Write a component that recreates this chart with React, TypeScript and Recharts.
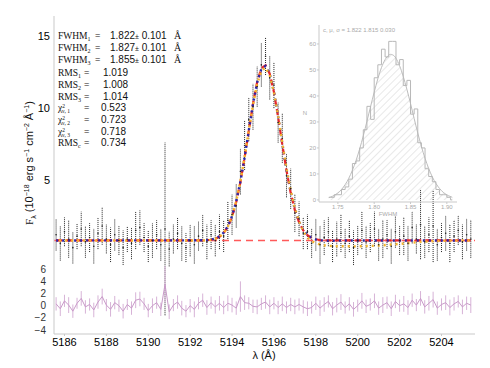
import React from 'react';
import { ComposedChart, Line, Scatter, Area, XAxis, YAxis, ErrorBar } from 'recharts';

// observed spectrum, 0.2 A sampling
const WAVE = [
  5185.6, 5185.8, 5186.0, 5186.2, 5186.4, 5186.6, 5186.8, 5187.0, 5187.2, 5187.4,
  5187.6, 5187.8, 5188.0, 5188.2, 5188.4, 5188.6, 5188.8, 5189.0, 5189.2, 5189.4,
  5189.6, 5189.8, 5190.0, 5190.2, 5190.4, 5190.6, 5190.8, 5191.0, 5191.2, 5191.4,
  5191.6, 5191.8, 5192.0, 5192.2, 5192.4, 5192.6, 5192.8, 5193.0, 5193.2, 5193.4,
  5193.6, 5193.8, 5194.0, 5194.2, 5194.4, 5194.6, 5194.8, 5195.0, 5195.2, 5195.4,
  5195.6, 5195.8, 5196.0, 5196.2, 5196.4, 5196.6, 5196.8, 5197.0, 5197.2, 5197.4,
  5197.6, 5197.8, 5198.0, 5198.2, 5198.4, 5198.6, 5198.8, 5199.0, 5199.2, 5199.4,
  5199.6, 5199.8, 5200.0, 5200.2, 5200.4, 5200.6, 5200.8, 5201.0, 5201.2, 5201.4,
  5201.6, 5201.8, 5202.0, 5202.2, 5202.4, 5202.6, 5202.8, 5203.0, 5203.2, 5203.4,
  5203.6, 5203.8, 5204.0, 5204.2, 5204.4, 5204.6, 5204.8, 5205.0, 5205.2, 5205.4,
];

const FLUX = [
  1.2, 0.6, 1.4, 0.9, 0.3, 1.1, 1.6, 0.7, 1.0, 0.4,
  1.3, 1.8, 0.9, 0.5, 1.2, 0.8, 0.3, 0.9, 0.6, 1.5,
  1.7, 1.0, 0.4, 0.8, 1.2, 0.5, 1.6, 0.2, 0.9, 1.3,
  0.6, 0.3, 0.8, 0.5, 1.1, 1.5, 0.7, 1.2, 0.8, 1.4,
  1.1, 2.2, 2.6, 3.2, 5.6, 7.4, 9.2, 10.1, 11.5, 13.0,
  13.6, 12.1, 11.6, 9.0, 7.9, 5.3, 4.4, 2.7, 2.3, 1.3,
  1.4, 0.6, 1.2, 0.5, 1.0, 1.4, 0.4, 0.9, 1.3, 0.6,
  1.1, 0.3, 0.8, 1.5, 0.7, 1.0, 1.6, 0.5, 0.9, 1.2,
  0.4, 1.4, 0.8, 1.1, 0.6, 1.7, 0.9, 1.9, 0.7, 1.2,
  1.8, 0.5, 1.0, 1.3, 0.6, 1.1, 1.5, 0.7, 1.2, 0.9,
];

const FLUX_ERR = [
  1.1, 1.2, 1.0, 1.3, 1.1, 0.9, 1.2, 1.1, 1.0, 1.2,
  1.1, 1.3, 1.0, 1.2, 1.1, 1.0, 1.2, 0.9, 1.1, 1.3,
  1.2, 1.0, 1.1, 1.2, 1.0, 1.1, 6.0, 1.2, 1.0, 1.1,
  1.2, 1.0, 1.1, 1.3, 1.0, 1.1, 1.2, 1.0, 1.1, 1.2,
  1.1, 1.3, 1.4, 1.5, 1.6, 1.7, 1.5, 1.6, 1.4, 1.5,
  1.3, 1.5, 1.6, 1.4, 1.7, 1.5, 1.4, 1.3, 1.2, 1.1,
  1.2, 1.0, 1.1, 1.3, 1.2, 1.0, 1.1, 1.2, 1.3, 1.0,
  1.1, 1.2, 1.0, 1.3, 1.1, 1.0, 1.2, 1.1, 1.3, 1.0,
  1.2, 1.1, 1.0, 1.3, 1.2, 1.1, 1.0, 2.4, 1.1, 1.2,
  2.5, 1.1, 1.0, 1.2, 1.3, 1.1, 1.0, 1.2, 1.1, 1.3,
];

const RESID = [
  0.3, -0.5, 0.8, 0.1, -0.9, 0.4, 1.2, -0.2, 0.2, -0.7,
  0.6, 1.5, 0.1, -0.6, 0.5, 0.0, -0.9, 0.2, -0.4, 0.9,
  1.1, 0.3, -0.8, 0.0, 0.5, -0.6, 3.5, -1.0, 0.1, 0.6,
  -0.4, -0.9, 0.0, -0.6, 0.4, 0.9, -0.3, 0.5, -0.2, 0.4,
  -0.3, 0.4, 0.1, -0.4, 1.5, 0.5, 0.4, -0.1, -0.2, 0.3,
  0.6, -0.2, 0.4, -0.3, 0.3, -0.3, 0.2, -0.2, 0.2, -0.2,
  -0.5, -0.3, 0.4, -0.4, 0.2, 0.7, -0.5, 0.1, 0.6, -0.3,
  0.3, -0.6, 0.0, 0.8, -0.1, 0.2, 0.8, -0.4, 0.1, 0.5,
  -0.5, 0.7, 0.0, 0.3, -0.3, 0.9, 0.1, 1.2, -0.2, 0.4,
  1.0, -0.4, 0.2, 0.5, -0.3, 0.3, 0.7, -0.2, 0.4, 0.1,
];

const RESID_ERR = [
  1.1, 1.2, 1.0, 1.3, 1.1, 0.9, 1.2, 1.1, 1.0, 1.2,
  1.1, 1.3, 1.0, 1.2, 1.1, 1.0, 1.2, 0.9, 1.1, 1.3,
  1.2, 1.0, 1.1, 1.2, 1.0, 1.1, 3.0, 1.2, 1.0, 1.1,
  1.2, 1.0, 1.1, 1.3, 1.0, 1.1, 1.2, 1.0, 1.1, 1.2,
  1.1, 1.3, 1.2, 1.1, 2.5, 1.2, 1.0, 1.1, 1.2, 1.0,
  1.1, 1.2, 1.0, 1.1, 1.2, 1.0, 1.1, 1.2, 1.0, 1.1,
  1.2, 1.0, 1.1, 1.3, 1.2, 1.0, 1.1, 1.2, 1.3, 1.0,
  1.1, 1.2, 1.0, 1.3, 1.1, 1.0, 1.2, 1.1, 1.3, 1.0,
  1.2, 1.1, 1.0, 1.3, 1.2, 1.1, 1.0, 1.2, 1.1, 1.2,
  1.3, 1.1, 1.0, 1.2, 1.3, 1.1, 1.0, 1.2, 1.1, 1.3,
];

// continuum level and the three gaussian fits
const CONT_WAVE = [5185.5, 5205.6];
const CONT = [0.8, 0.8];

const FIT_WAVE = [
  5185.6,
  5192.6, 5192.8, 5193.0, 5193.2, 5193.4, 5193.6, 5193.8, 5194.0, 5194.2, 5194.4,
  5194.6, 5194.8, 5195.0, 5195.2, 5195.4, 5195.6, 5195.8, 5196.0, 5196.2, 5196.4,
  5196.6, 5196.8, 5197.0, 5197.2, 5197.4, 5197.6, 5197.8, 5198.0, 5198.2, 5198.4,
  5198.6, 5198.8, 5199.0,
  5200.0, 5201.0, 5202.0, 5203.0, 5204.0, 5205.4,
];
const FIT_1 = [
  0.80,
  0.81, 0.82, 0.85, 0.92, 1.06, 1.31, 1.75, 2.44, 3.47, 4.85,
  6.55, 8.43, 10.28, 11.82, 12.77, 12.97, 12.38, 11.11, 9.37, 7.48,
  5.66, 4.11, 2.91, 2.06, 1.50, 1.17, 0.98, 0.88, 0.83, 0.81,
  0.80, 0.80, 0.80,
  0.80, 0.80, 0.80, 0.80, 0.80, 0.80,
];
const FIT_2 = [
  0.80,
  0.81, 0.82, 0.86, 0.94, 1.08, 1.34, 1.79, 2.49, 3.52, 4.90,
  6.58, 8.44, 10.27, 11.78, 12.72, 12.93, 12.36, 11.12, 9.40, 7.53,
  5.72, 4.17, 2.96, 2.10, 1.53, 1.18, 0.98, 0.87, 0.81, 0.79,
  0.78, 0.78, 0.79,
  0.80, 0.80, 0.80, 0.80, 0.80, 0.80,
];
const FIT_3 = [
  0.80,
  0.80, 0.81, 0.84, 0.91, 1.05, 1.31, 1.76, 2.47, 3.52, 4.91,
  6.60, 8.44, 10.22, 11.67, 12.58, 12.82, 12.30, 11.10, 9.44, 7.61,
  5.82, 4.27, 3.04, 2.12, 1.46, 1.01, 0.76, 0.61, 0.52, 0.46,
  0.43, 0.41, 0.40,
  0.39, 0.44, 0.56, 0.70, 0.78, 0.80,
];

// inset: FWHM distribution
const HIST_BINS = [
  1.7375, 1.7425, 1.7475, 1.7525, 1.7575, 1.7625, 1.7675, 1.7725, 1.7775, 1.7825,
  1.7875, 1.7925, 1.7975, 1.8025, 1.8075, 1.8125, 1.8175, 1.8225, 1.8275, 1.8325,
  1.8375, 1.8425, 1.8475, 1.8525, 1.8575, 1.8625, 1.8675, 1.8725, 1.8775, 1.8825,
  1.8875, 1.8925, 1.8975, 1.9025, 1.9075,
];
const HIST_COUNTS = [
  1, 1, 2, 2, 4, 5, 8, 14, 15, 20,
  27, 36, 31, 47, 52, 58, 55, 61, 61, 52,
  54, 44, 46, 33, 35, 22, 20, 12, 9, 7,
  4, 2, 2, 1, 0,
];
const HIST_GAUSS = [
  0.9, 1.4, 2.2, 3.3, 4.9, 7.0, 9.8, 13.2, 17.3, 22.1,
  27.4, 33.1, 38.7, 44.1, 48.9, 52.6, 55.0, 56.0, 55.4, 53.2,
  49.7, 45.1, 39.9, 34.2, 28.5, 23.1, 18.2, 14.0, 10.4, 7.5,
  5.3, 3.6, 2.4, 1.6, 1.0,
];

const X_TICKS = [5186, 5188, 5190, 5192, 5194, 5196, 5198, 5200, 5202, 5204];
const X_MINOR = [5186, 5187, 5188, 5189, 5190, 5191, 5192, 5193, 5194, 5195, 5196, 5197, 5198, 5199, 5200, 5201, 5202, 5203, 5204, 5205];
const Y_TICKS = [5, 10, 15];
const RES_TICKS = [-4, -2, 0, 2, 4, 6];
const INSET_X_TICKS = [1.75, 1.8, 1.85, 1.9];
const INSET_Y_TICKS = [0, 10, 20, 30, 40, 50, 60];

const X_DOMAIN: [number, number] = [5185.5, 5205.6];
const FRAME = '#c9c9c9';
const SANS = 'Liberation Sans, Arial, sans-serif';
const SERIF = 'Liberation Serif, Times New Roman, serif';

const spectrum = WAVE.map((w, i) => ({ w, f: FLUX[i], e: FLUX_ERR[i] }));
const residuals = WAVE.map((w, i) => ({ w, r: RESID[i], e: RESID_ERR[i] }));
const cont = CONT_WAVE.map((w, i) => ({ w, v: CONT[i] }));
const fit1 = FIT_WAVE.map((w, i) => ({ w, v: FIT_1[i] }));
const fit2 = FIT_WAVE.map((w, i) => ({ w, v: FIT_2[i] }));
const fit3 = FIT_WAVE.map((w, i) => ({ w, v: FIT_3[i] }));
const hist = HIST_BINS.map((x, i) => ({ x, n: HIST_COUNTS[i], g: HIST_GAUSS[i] }));

const minus = (v: number) => String(v).replace('-', '\u2212');

const Dot = (p: any) => <circle cx={p.cx} cy={p.cy} r={0.8} fill="#222" />;

const MainPanel = () => (
  <ComposedChart width={490} height={368} margin={{ top: 16, right: 15, bottom: 111, left: 24 }}
    style={{ position: 'absolute', left: 0, top: 0 }}>
    <XAxis dataKey="w" type="number" domain={X_DOMAIN} allowDataOverflow ticks={X_MINOR} interval={0}
      tick={false} mirror height={0} tickSize={3} stroke={FRAME} />
    <XAxis xAxisId="top" orientation="top" type="number" domain={X_DOMAIN} allowDataOverflow ticks={X_MINOR} interval={0}
      tick={false} mirror height={0} tickSize={3} stroke={FRAME} />
    <YAxis type="number" domain={[-0.35, 16.4]} allowDataOverflow ticks={Y_TICKS} interval={0} width={30}
      tickLine={false} tickSize={2} tickMargin={2} stroke={FRAME}
      tick={{ fontSize: 11, fill: '#000', fontFamily: SANS }} />
    <YAxis yAxisId="right" orientation="right" type="number" domain={[-0.35, 16.4]} ticks={[2, 4, 6, 8, 10, 12, 14, 16]} interval={0}
      tick={false} mirror width={0} tickSize={3} stroke={FRAME} />
    <Scatter data={spectrum} dataKey="f" shape={Dot} isAnimationActive={false}>
      <ErrorBar dataKey="e" direction="y" width={0} stroke="#222" strokeWidth={1} strokeDasharray="1 1" />
    </Scatter>
    <Line data={cont} dataKey="v" stroke="#ff5a5a" strokeWidth={1.6} strokeDasharray="7 5" dot={false} isAnimationActive={false} />
    <Line data={fit1} dataKey="v" stroke="#e8262b" strokeWidth={2.2} strokeDasharray="6 4" dot={false} isAnimationActive={false} />
    <Line data={fit2} dataKey="v" stroke="#2b2aa6" strokeWidth={2.4} strokeDasharray="2 4" dot={false} isAnimationActive={false} />
    <Line data={fit3} dataKey="v" stroke="#f5b52c" strokeWidth={2.4} strokeDasharray="2 4" strokeDashoffset={3} dot={false} isAnimationActive={false} />
  </ComposedChart>
);

const ResidualPanel = () => (
  <ComposedChart width={490} height={368} margin={{ top: 257, right: 15, bottom: 14, left: 24 }}
    style={{ position: 'absolute', left: 0, top: 0 }}>
    <XAxis dataKey="w" type="number" domain={X_DOMAIN} allowDataOverflow ticks={X_TICKS} interval={0} height={20}
      tickSize={2} tickMargin={2} stroke={FRAME}
      tick={{ fontSize: 11, fill: '#000', fontFamily: SANS }} />
    <XAxis xAxisId="top" orientation="top" type="number" domain={X_DOMAIN} ticks={X_MINOR} interval={0}
      tick={false} mirror height={0} tickSize={3} stroke={FRAME} />
    <YAxis type="number" domain={[-4.65, 8]} allowDataOverflow ticks={RES_TICKS} interval={0} width={30}
      tickLine={false} tickSize={2} tickMargin={6} stroke={FRAME} tickFormatter={minus}
      tick={{ fontSize: 10, fill: '#333', fontFamily: SANS }} />
    <YAxis yAxisId="right" orientation="right" type="number" domain={[-4.65, 8]} ticks={RES_TICKS} interval={0}
      tick={false} mirror width={0} tickSize={3} stroke={FRAME} />
    <Line data={residuals} dataKey="r" stroke="#c99ac9" strokeWidth={1} dot={false} isAnimationActive={false}>
      <ErrorBar dataKey="e" direction="y" width={0} stroke="#d7b3d7" strokeWidth={1} />
    </Line>
  </ComposedChart>
);

const InsetPanel = () => (
  <ComposedChart width={490} height={368} data={hist} margin={{ top: 25, right: 33, bottom: 156, left: 307 }}
    style={{ position: 'absolute', left: 0, top: 0 }}>
    <defs>
      <pattern id="hatch" width="5" height="5" patternUnits="userSpaceOnUse" patternTransform="rotate(45)">
        <line x1="0" y1="0" x2="0" y2="5" stroke="#c6c6c6" strokeWidth="0.8" />
      </pattern>
    </defs>
    <XAxis dataKey="x" type="number" domain={[1.724, 1.914]} allowDataOverflow ticks={INSET_X_TICKS} interval={0} height={10}
      tickSize={2} tickMargin={1} stroke={FRAME} tickFormatter={(v: number) => v.toFixed(2)}
      tick={{ fontSize: 6, fill: '#aaa', fontFamily: SANS }} />
    <XAxis xAxisId="top" orientation="top" type="number" domain={[1.724, 1.914]} ticks={INSET_X_TICKS} interval={0}
      tick={false} mirror height={0} tickSize={2} stroke={FRAME} />
    <YAxis type="number" domain={[-0.8, 67.3]} allowDataOverflow ticks={INSET_Y_TICKS} interval={0} width={12}
      tickSize={2} tickMargin={1} stroke={FRAME}
      tick={{ fontSize: 6, fill: '#aaa', fontFamily: SANS }} />
    <YAxis yAxisId="right" orientation="right" type="number" domain={[-0.8, 67.3]} ticks={INSET_Y_TICKS} interval={0}
      tick={false} mirror width={0} tickSize={2} stroke={FRAME} />
    <Area dataKey="g" type="monotone" stroke="#bdbdbd" strokeWidth={1} fill="url(#hatch)" fillOpacity={1} isAnimationActive={false} />
    <Line dataKey="n" type="step" stroke="#b8b8b8" strokeWidth={1} dot={false} isAnimationActive={false} />
  </ComposedChart>
);

const Sub = ({ children }: { children: React.ReactNode }) => (
  <tspan fontSize={6} dy={2}>{children}</tspan>
);

const Annotations = () => (
  <svg width={490} height={368} style={{ position: 'absolute', left: 0, top: 0, pointerEvents: 'none' }}>
    <g fill="#111">
      {[['1', '1.822', 39], ['2', '1.827', 51], ['3', '1.855', 63]].map(([s, v, y]) => (
        <g key={s}>
          <text x={58} y={y} fontSize={9.5} fontFamily={SERIF}>FWHM<Sub>{s}</Sub></text>
          <text x={95} y={y} fontSize={9.5} fontFamily={SERIF}>=</text>
          <text x={110} y={y} fontSize={10} fontFamily={SANS}>{v}<tspan fontSize={7}>±</tspan> 0.101</text>
          <text x={174} y={y} fontSize={10} fontFamily={SERIF}>Å</text>
        </g>
      ))}
      {[['1', '1.019', 76], ['2', '1.008', 88], ['3', '1.014', 100]].map(([s, v, y]) => (
        <g key={'r' + s}>
          <text x={58} y={y} fontSize={9.5} fontFamily={SERIF}>RMS<Sub>{s}</Sub></text>
          <text x={84} y={y} fontSize={9.5} fontFamily={SERIF}>=</text>
          <text x={103} y={y} fontSize={10} fontFamily={SANS}>{v}</text>
        </g>
      ))}
      {[['1', '0.523', 111], ['2', '0.723', 123], ['3', '0.718', 135]].map(([s, v, y]) => (
        <g key={'c' + s}>
          <text x={58} y={y} fontSize={9.5} fontFamily={SERIF}>χ<tspan fontSize={5.5} dy={-3}>2</tspan><tspan fontSize={5.5} dx={-3} dy={5}>ν, {s}</tspan></text>
          <text x={84} y={y} fontSize={9.5} fontFamily={SERIF}>=</text>
          <text x={101} y={y} fontSize={10} fontFamily={SANS}>{v}</text>
        </g>
      ))}
      <text x={58} y={146} fontSize={9.5} fontFamily={SERIF}>RMS<Sub>c</Sub></text>
      <text x={84} y={146} fontSize={9.5} fontFamily={SERIF}>=</text>
      <text x={101} y={146} fontSize={10} fontFamily={SANS}>0.734</text>
    </g>
    <text transform="translate(33,163) rotate(-90)" textAnchor="middle" fontSize={11} fill="#111" fontFamily={SANS}>
      <tspan fontFamily={SERIF}>F</tspan><tspan fontSize={7} dy={3}>λ</tspan>
      <tspan dy={-3}> (10</tspan><tspan fontSize={7} dy={-4}>−18</tspan>
      <tspan dy={4}> erg s</tspan><tspan fontSize={7} dy={-4}>−1</tspan>
      <tspan dy={4}> cm</tspan><tspan fontSize={7} dy={-4}>−2</tspan>
      <tspan dy={4}> Å</tspan><tspan fontSize={7} dy={-4}>−1</tspan><tspan dy={4}>)</tspan>
    </text>
    <text x={264} y={359} textAnchor="middle" fontSize={11} fill="#111" fontFamily={SANS}>λ (Å)</text>
    <g fontSize={6} fill="#aaa" fontFamily={SANS}>
      <text x={323} y={32}>c, μ, σ =  1.822   1.815   0.030</text>
      <text x={388} y={216} textAnchor="middle">FWHM</text>
      <text x={305} y={115} textAnchor="middle">N</text>
    </g>
  </svg>
);

export default function App() {
  return (
    <div style={{ position: 'absolute', left: 0, top: 0, width: 490, height: 368, background: '#fff' }}>
      <MainPanel />
      <InsetPanel />
      <ResidualPanel />
      <Annotations />
    </div>
  );
}
